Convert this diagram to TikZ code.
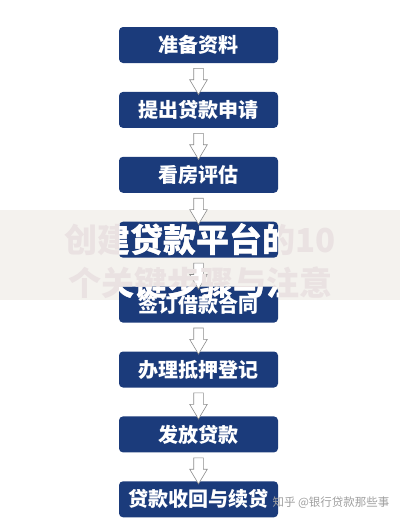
\documentclass[tikz,border=0pt]{standalone}
\usepackage{fontspec}
\usepackage{tikz}
\usetikzlibrary{positioning,calc,shapes.arrows}
\newfontfamily\cjk{Noto Sans CJK SC}
\definecolor{boxblue}{HTML}{1B3B7B}
\definecolor{bandgray}{HTML}{F4F2EE}
\definecolor{wmpink}{HTML}{EAE2E2}

\begin{document}
\begin{tikzpicture}[x=1pt,y=-1pt]
	\tikzstyle{every node}=[font=\cjk]
	\tikzstyle{stepbox}=[fill=boxblue,text=white,rounded corners=4pt,minimum width=159pt,minimum height=36pt,font=\cjk\bfseries\fontsize{20}{24}\selectfont]
	\tikzstyle{flowarrow}=[single arrow,draw=gray!90,fill=white,line width=0.6pt,inner sep=4.5pt,single arrow head extend=4pt,single arrow tip angle=62,minimum height=26pt,shape border rotate=270]
	\tikzstyle{overlay}=[font=\cjk\bfseries\fontsize{33}{40}\selectfont]
	\useasboundingbox (0,0) rectangle (400,525);
	\fill[bandgray] (0,210) rectangle (400,300);
	\node[stepbox] (b1) at (198.5,45) {准备资料};
	\node[stepbox,below=28.5pt of b1] (b2) {提出贷款申请};
	\node[stepbox,below=28.5pt of b2] (b3) {看房评估};
	\node[stepbox,below=28.5pt of b3] (b4) {};
	\node[stepbox,below=28.5pt of b4] (b5) {签订借款合同};
	\node[stepbox,below=28.5pt of b5] (b6) {办理抵押登记};
	\node[stepbox,below=28.5pt of b6] (b7) {发放贷款};
	\node[stepbox,below=28.5pt of b7] (b8) {贷款收回与续贷};
	\foreach \i/\j in {1/2,2/3,3/4,4/5,5/6,6/7,7/8}
		\node[flowarrow] at ($(b\i.south)!0.5!(b\j.north)$) {};
	\node[overlay,text=wmpink] (t1) at (200,240) {创建贷款平台的10};
	\node[overlay,text=wmpink] (t2) at (200,283) {个关键步骤与注意};
	\begin{scope}
		\clip (b4.north west) rectangle (b4.south east) (b5.north west) rectangle (b5.south east);
		\node[overlay,text=white] at (t1) {创建贷款平台的10};
		\node[overlay,text=white] at (t2) {个关键步骤与注意};
	\end{scope}
	\node[text=gray!75,font=\cjk\fontsize{11.5}{14}\selectfont] (zh) at (331,503) {知乎 @银行贷款那些事};
\end{tikzpicture}
\end{document}
